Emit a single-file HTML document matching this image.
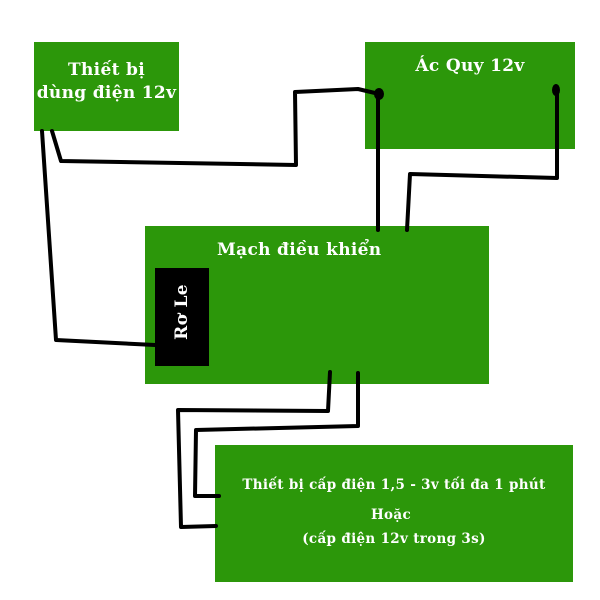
<!DOCTYPE html>
<html><head><meta charset="utf-8"><style>
body{margin:0;width:600px;height:600px;background:#fff;position:relative;overflow:hidden;font-family:"DejaVu Serif","Liberation Serif",serif;font-weight:bold;color:#fff;letter-spacing:0.02em}
.b{position:absolute;background:#2c970a;overflow:hidden}
.t{position:absolute;white-space:nowrap}
</style></head><body>
<div class="b" style="left:34px;top:42px;width:145px;height:89px">
<div class="t" style="left:-10px;width:165px;text-align:center;top:17px;font-size:17px;line-height:23px">Thiết bị<br>dùng điện 12v</div></div>
<div class="b" style="left:365px;top:42px;width:210px;height:107px">
<div class="t" style="left:0;width:210px;text-align:center;top:14px;font-size:17px">Ác Quy 12v</div></div>
<div class="b" style="left:145px;top:226px;width:344px;height:158px">
<div class="t" style="left:72px;top:14px;font-size:17px">Mạch điều khiển</div></div>
<div style="position:absolute;left:155px;top:268px;width:54px;height:98px;background:#000"></div>
<div class="t" style="left:182px;top:312px;font-size:17px;transform:translate(-50%,-50%) rotate(-90deg)">Rơ Le</div>
<div class="b" style="left:215px;top:445px;width:358px;height:137px">
<div class="t" style="left:0;width:358px;text-align:center;top:32px;font-size:13.5px">Thiết bị cấp điện 1,5 - 3v tối đa 1 phút</div>
<div class="t" style="left:0;width:352px;text-align:center;top:62px;font-size:13.5px">Hoặc</div>
<div class="t" style="left:0;width:358px;text-align:center;top:86px;font-size:13.5px">(cấp điện 12v trong 3s)</div>
</div>
<svg width="600" height="600" style="position:absolute;left:0;top:0" fill="none" stroke="#000" stroke-width="4" stroke-linejoin="round" stroke-linecap="round">
<polyline points="42,131 56,340 155,345"/>
<polyline points="52,131 61,161 296,165 295,92 358,89 375,93"/>
<ellipse cx="379" cy="94" rx="5" ry="6" fill="#000" stroke="none"/>
<polyline points="378,94 378,230"/>
<ellipse cx="556" cy="90" rx="4" ry="6" fill="#000" stroke="none"/>
<polyline points="557,90 557,178 410,174 407,230"/>
<polyline points="330,372 328,411 178,410 181,527 216,526"/>
<polyline points="358,373 358,426 196,430 195,496 219,496"/>
</svg>
</body></html>
